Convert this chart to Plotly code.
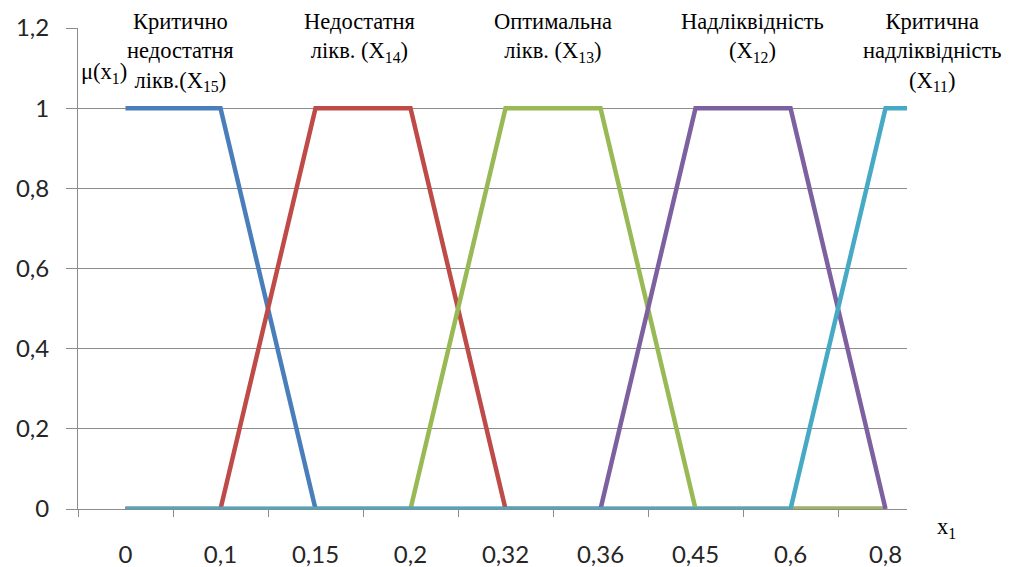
import plotly.graph_objects as go

# ---- data ----
categories = ["0", "0,1", "0,15", "0,2", "0,32", "0,36", "0,45", "0,6", "0,8"]
crit_low = [1, 1, 0, 0, 0, 0, 0, 0, 0]        # X15
low = [0, 0, 1, 1, 0, 0, 0, 0, 0]             # X14
optimal = [0, 0, 0, 0, 1, 1, 0, 0, 0]         # X13
high = [0, 0, 0, 0, 0, 0, 1, 1, 0]            # X12
crit_high = [0, 0, 0, 0, 0, 0, 0, 0, 1, 1]    # X11 (continues past last category)
y_ticks = [0, 0.2, 0.4, 0.6, 0.8, 1, 1.2]
y_labels = ["0", "0,2", "0,4", "0,6", "0,8", "1", "1,2"]

series = [
    ("X15", crit_low, "#4A7EBB"),
    ("X14", low, "#BE4B48"),
    ("X13", optimal, "#98B954"),
    ("X12", high, "#7D60A0"),
    ("X11", crit_high, "#46AAC5"),
]

fig = go.Figure()
for name, vals, color in series:
    fig.add_trace(go.Scatter(
        x=list(range(len(vals))), y=vals, mode="lines", name=name,
        line=dict(color=color, width=4.5), showlegend=False,
    ))

# layout geometry (screen pixels); the page body has an 8px margin
OFF = 8
W, H = 1012 - OFF, 567 - OFF
L, R, T, B = 78, 907, 28, 509


def px(x):
    return (x - L) / (R - L)


def py(y):
    return (B - y) / (B - T)


grid = "#8C8C8C"
fig.update_layout(
    width=W, height=H,
    margin=dict(l=L - OFF, r=1012 - R, t=T - OFF, b=567 - B, autoexpand=False),
    paper_bgcolor="white", plot_bgcolor="white",
    font=dict(family="Lato", size=24, color="#262626"),
    xaxis=dict(
        range=[-0.5, 8.226], tickmode="array",
        tickvals=list(range(len(categories))), ticktext=categories,
        ticks="", showgrid=False, zeroline=False, automargin=False,
        showline=True, linecolor=grid, linewidth=1,
        ticklabelstandoff=24,
        minor=dict(tickmode="array", tickvals=[i - 0.5 for i in range(len(categories) + 1)],
                   ticks="outside", ticklen=7, tickcolor=grid, tickwidth=1, showgrid=False),
    ),
    yaxis=dict(
        range=[0, 1.2], tickmode="array", tickvals=y_ticks, ticktext=y_labels,
        showgrid=True, gridcolor=grid, gridwidth=1, zeroline=False, automargin=False,
        showline=True, linecolor=grid, linewidth=1,
        ticks="outside", ticklen=11, tickcolor=grid,
        ticklabelstandoff=12,
    ),
)

serif = dict(family="Liberation Serif, Times New Roman, serif", size=22.5, color="black")
labels = [
    ("Критично<br>недостатня<br>лікв.(X<sub>15</sub>)", 180),
    ("Недостатня<br>лікв. (X<sub>14</sub>)", 359),
    ("Оптимальна<br>лікв. (X<sub>13</sub>)", 553),
    ("Надліквідність<br>(X<sub>12</sub>)", 752),
    ("Критична<br>надліквідність<br>(X<sub>11</sub>)", 932),
]
for text, cx in labels:
    fig.add_annotation(text=text, xref="paper", yref="paper", x=px(cx), y=py(7),
                       xanchor="center", yanchor="top", showarrow=False,
                       font=serif, align="center")

fig.add_annotation(text="μ(x<sub>1</sub>)", xref="paper", yref="paper", x=px(79), y=py(73),
                   xanchor="left", yanchor="middle", showarrow=False, font=serif)
fig.add_annotation(text="x<sub>1</sub>", xref="paper", yref="paper", x=px(946), y=py(528),
                   xanchor="center", yanchor="middle", showarrow=False, font=serif)

fig.write_html("out.html")
